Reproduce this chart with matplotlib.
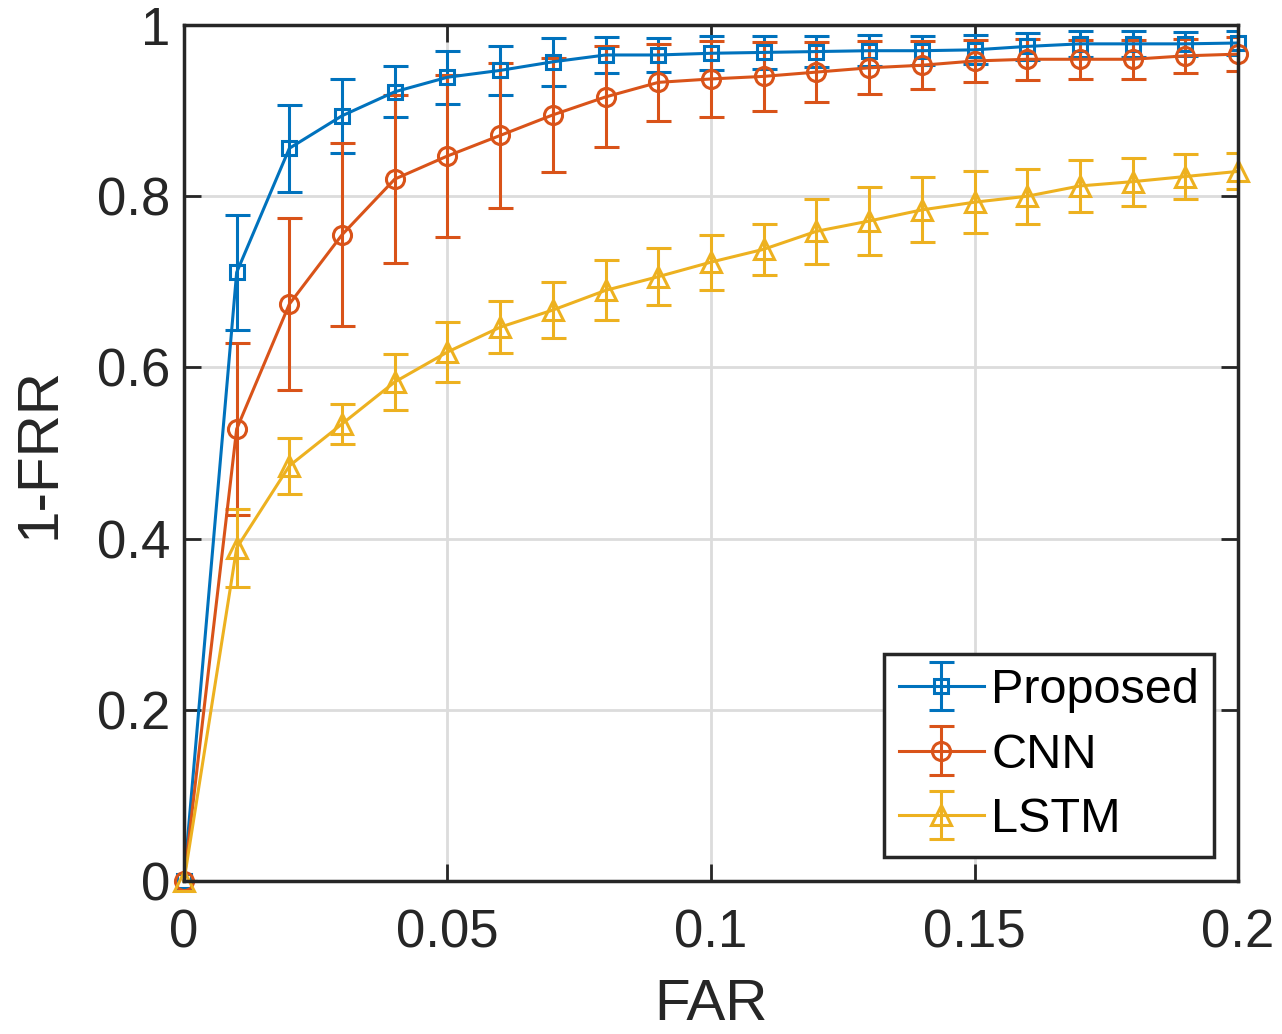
import numpy as np
import matplotlib
matplotlib.use('Agg')
import matplotlib.pyplot as plt

plt.rcParams['font.family'] = ['Liberation Sans', 'DejaVu Sans']

far = [0.00, 0.01, 0.02, 0.03, 0.04, 0.05, 0.06, 0.07, 0.08, 0.09, 0.10,
       0.11, 0.12, 0.13, 0.14, 0.15, 0.16, 0.17, 0.18, 0.19, 0.20]

proposed = [0.0, 0.711, 0.856, 0.894, 0.922, 0.939, 0.947, 0.957, 0.965, 0.965, 0.967,
            0.968, 0.969, 0.970, 0.970, 0.971, 0.975, 0.978, 0.978, 0.978, 0.979]
proposed_err = [0.0, 0.067, 0.051, 0.043, 0.030, 0.031, 0.029, 0.028, 0.021, 0.020, 0.020,
                0.019, 0.018, 0.018, 0.017, 0.017, 0.016, 0.015, 0.015, 0.014, 0.014]

cnn = [0.0, 0.528, 0.674, 0.755, 0.820, 0.847, 0.871, 0.895, 0.916, 0.933, 0.937,
       0.940, 0.945, 0.950, 0.953, 0.958, 0.960, 0.960, 0.960, 0.964, 0.966]
cnn_err = [0.0, 0.100, 0.100, 0.107, 0.098, 0.095, 0.085, 0.067, 0.059, 0.045, 0.044,
           0.040, 0.035, 0.031, 0.028, 0.025, 0.024, 0.023, 0.023, 0.020, 0.020]

lstm = [0.0, 0.389, 0.485, 0.534, 0.583, 0.618, 0.647, 0.667, 0.690, 0.706, 0.723,
        0.738, 0.759, 0.771, 0.784, 0.793, 0.800, 0.812, 0.817, 0.823, 0.829]
lstm_err = [0.0, 0.046, 0.033, 0.023, 0.033, 0.035, 0.030, 0.033, 0.035, 0.033, 0.032,
            0.030, 0.038, 0.040, 0.038, 0.036, 0.032, 0.030, 0.028, 0.026, 0.021]

series = [
    ('Proposed', proposed, proposed_err, '#0072BD', 's', 10),
    ('CNN', cnn, cnn_err, '#D95319', 'o', 13),
    ('LSTM', lstm, lstm_err, '#EDB120', '^', 14),
]

fig = plt.figure(figsize=(12.82, 10.34), dpi=100)
ax = fig.add_axes([0.1435, 0.148, 0.8222, 0.8278])

for name, vals, errs, color, marker, ms in series:
    cont = ax.errorbar(far, vals, yerr=errs, color=color, marker=marker, markersize=ms,
                       markerfacecolor='none', markeredgewidth=2.2, linewidth=2.2,
                       elinewidth=2.2, capsize=9, capthick=2.2, label=name)
    cont.lines[0].set_clip_on(False)

ax.set_xlim(0, 0.2)
ax.set_ylim(0, 1)
ax.set_xticks([0, 0.05, 0.1, 0.15, 0.2])
ax.set_xticklabels(['0', '0.05', '0.1', '0.15', '0.2'])
ax.set_yticks([0, 0.2, 0.4, 0.6, 0.8, 1])
ax.set_yticklabels(['0', '0.2', '0.4', '0.6', '0.8', '1'])
ax.tick_params(direction='in', length=12, width=2, labelsize=38, colors='#262626',
               top=True, right=True, pad=10)
ax.tick_params(axis='x', pad=20)
ax.grid(True, color='#dcdcdc', linewidth=2)
ax.set_axisbelow(True)
for sp in ax.spines.values():
    sp.set_linewidth(2.5)
    sp.set_color('#262626')

ax.set_xlabel('FAR', fontsize=42, color='#262626', labelpad=14)
ax.set_ylabel('1-FRR', fontsize=42, color='#262626', labelpad=22)

leg = ax.legend(loc='lower right', fontsize=35, frameon=True, fancybox=False,
                edgecolor='#262626', framealpha=1, handlelength=1.75,
                handletextpad=0.15, borderpad=0.3, labelspacing=0.4,
                borderaxespad=0.5)
leg.get_frame().set_linewidth(2.5)

fig.savefig('out.png', dpi=100)
